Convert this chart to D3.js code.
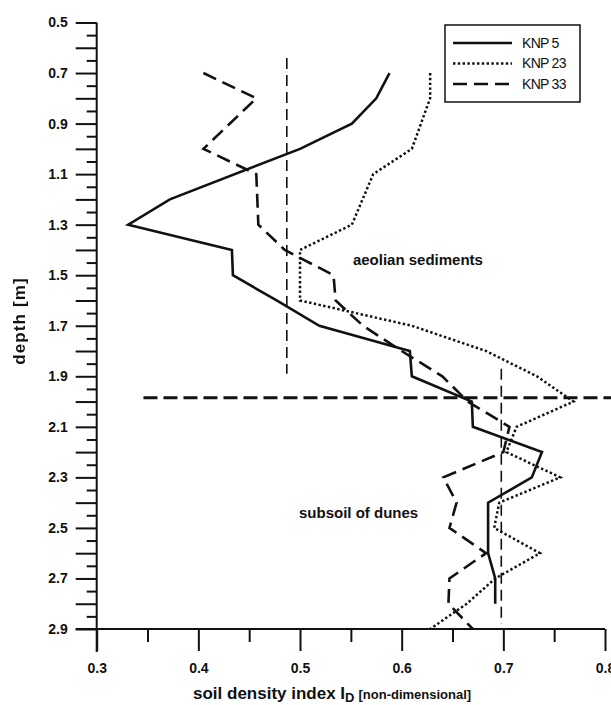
<!DOCTYPE html>
<html>
<head>
<meta charset="utf-8">
<script src="https://cdn.jsdelivr.net/npm/d3@7"></script>
<style>
  body { margin: 0; background: #fff; }
  text { font-family: "Liberation Sans", Arial, sans-serif; fill: #111; }
  .ytitle { will-change: transform; }
</style>
</head>
<body>
<script>
// data (depth in m, soil density index I_D)
const knp5Depth = [0.7, 0.8, 0.9, 1.0, 1.2, 1.3, 1.4, 1.5, 1.6, 1.7, 1.8, 1.9, 2.0, 2.1, 2.2, 2.3, 2.4, 2.6, 2.7, 2.8];
const knp5Id    = [0.588, 0.575, 0.551, 0.500, 0.372, 0.331, 0.433, 0.434, 0.477, 0.519, 0.608, 0.610, 0.669, 0.670, 0.738, 0.728, 0.685, 0.685, 0.692, 0.692];

const knp23Depth = [0.7, 0.8, 0.9, 1.0, 1.1, 1.3, 1.4, 1.6, 1.7, 1.8, 1.9, 2.0, 2.1, 2.2, 2.3, 2.4, 2.5, 2.6, 2.7, 2.8, 2.9];
const knp23Id    = [0.628, 0.628, 0.619, 0.610, 0.572, 0.551, 0.500, 0.500, 0.610, 0.683, 0.733, 0.769, 0.713, 0.703, 0.756, 0.696, 0.691, 0.736, 0.692, 0.664, 0.628];

const knp33Depth = [0.7, 0.8, 1.0, 1.1, 1.3, 1.4, 1.5, 1.6, 1.7, 1.8, 1.9, 2.0, 2.1, 2.2, 2.3, 2.4, 2.5, 2.6, 2.7, 2.8, 2.9];
const knp33Id    = [0.405, 0.457, 0.405, 0.457, 0.459, 0.485, 0.533, 0.535, 0.562, 0.600, 0.640, 0.665, 0.706, 0.700, 0.641, 0.654, 0.647, 0.683, 0.647, 0.646, 0.670];

const seriesNames = ["KNP 5", "KNP 23", "KNP 33"];

// layer boundary and mean lines
const boundaryDepth = 1.985;
const boundaryFrom = 0.346;
const meanIds = [0.487, 0.698];
const meanTop = [0.64, 1.87];
const meanBottom = [1.89, 2.88];
const layerNames = ["aeolian sediments", "subsoil of dunes"];
const layerLabelAt = [[0.552, 1.46], [0.499, 2.46]];

const xLabels = ["0.3", "0.4", "0.5", "0.6", "0.7", "0.8"];
const yLabels = ["0.5", "0.7", "0.9", "1.1", "1.3", "1.5", "1.7", "1.9", "2.1", "2.3", "2.5", "2.7", "2.9"];

const W = 611, H = 705;
const svg = d3.select("body").append("svg")
    .attr("width", W)
    .attr("height", H);
svg.append("rect").attr("width", W).attr("height", H).attr("fill", "#fff");

const x = d3.scaleLinear().domain([0.3, 0.8]).range([96.7, 605]);
const y = d3.scaleLinear().domain([0.5, 2.9]).range([22.5, 629]);

// ---- axes
const yMajor = d3.range(5, 30).map(d => d / 10);
const yMinor = d3.range(5, 29).map(d => d / 10 + 0.05);
const xMajor = d3.range(3, 9).map(d => d / 10);
const xMinor = d3.range(3, 8).map(d => d / 10 + 0.05);

function styleAxis(g) {
    g.select(".domain").remove();
    g.selectAll(".tick line").attr("stroke", "#111").attr("stroke-width", 2);
    g.selectAll(".tick text")
        .attr("font-family", "Liberation Sans, Arial, sans-serif")
        .attr("font-size", 14)
        .attr("font-weight", "bold")
        .attr("fill", "#111");
}

svg.append("g")
    .attr("transform", "translate(" + x(0.3) + ",0)")
    .call(d3.axisLeft(y).tickValues(yMinor).tickSize(10).tickFormat(""))
    .call(styleAxis);

svg.append("g")
    .attr("transform", "translate(" + x(0.3) + ",0)")
    .call(d3.axisLeft(y).tickValues(yMajor).tickSize(21).tickPadding(8)
        .tickFormat(d => yLabels.includes(d.toFixed(1)) ? d.toFixed(1) : ""))
    .call(styleAxis);

svg.append("g")
    .attr("transform", "translate(0," + y(2.9) + ")")
    .call(d3.axisBottom(x).tickValues(xMinor).tickSize(13).tickFormat(""))
    .call(styleAxis);

svg.append("g")
    .attr("transform", "translate(0," + y(2.9) + ")")
    .call(d3.axisBottom(x).tickValues(xMajor).tickSize(22).tickPadding(12)
        .tickFormat((d, i) => xLabels[i]))
    .call(styleAxis);

// axis lines
svg.append("line")
    .attr("x1", x(0.3)).attr("x2", x(0.3))
    .attr("y1", y(0.5)).attr("y2", y(2.9) + 23)
    .attr("stroke", "#111").attr("stroke-width", 2);
svg.append("line")
    .attr("x1", x(0.3) - 21).attr("x2", x(0.8))
    .attr("y1", y(2.9)).attr("y2", y(2.9))
    .attr("stroke", "#111").attr("stroke-width", 2);

// axis titles
const xt = svg.append("text")
    .attr("x", 193)
    .attr("y", 699)
    .attr("font-size", 17)
    .attr("font-weight", "bold")
    .attr("fill", "#111");
xt.append("tspan").text("soil density index I");
xt.append("tspan").attr("font-size", 13).attr("dy", 3).text("D");
xt.append("tspan").attr("font-size", 13).attr("dy", -3).attr("dx", 4).text("[non-dimensional]");

svg.append("text")
    .attr("class", "ytitle")
    .attr("transform", "translate(25,321) rotate(-90)")
    .attr("text-anchor", "middle")
    .attr("font-size", 17)
    .attr("font-weight", "bold")
    .attr("letter-spacing", 1.1)
    .attr("fill", "#111")
    .text("depth [m]");

// ---- reference lines
svg.selectAll(".meanline")
    .data(meanIds)
    .enter().append("line")
    .attr("class", "meanline")
    .attr("x1", d => x(d)).attr("x2", d => x(d))
    .attr("y1", (d, i) => y(meanTop[i]))
    .attr("y2", (d, i) => y(meanBottom[i]))
    .attr("stroke", "#111")
    .attr("stroke-width", 1.6)
    .attr("stroke-dasharray", "11,6");

svg.append("line")
    .attr("x1", x(boundaryFrom)).attr("x2", x(0.82))
    .attr("y1", y(boundaryDepth)).attr("y2", y(boundaryDepth))
    .attr("stroke", "#111")
    .attr("stroke-width", 3)
    .attr("stroke-dasharray", "14,6");

// ---- profiles
const line = d3.line().x(d => x(d[0])).y(d => y(d[1]));
const profiles = [
    { pts: d3.zip(knp5Id, knp5Depth), dash: null, w: 2.6 },
    { pts: d3.zip(knp23Id, knp23Depth), dash: "2.4,2.4", w: 2.5 },
    { pts: d3.zip(knp33Id, knp33Depth), dash: "14,7", w: 2.6 }
];

svg.selectAll(".profile")
    .data(profiles)
    .enter().append("path")
    .attr("class", "profile")
    .attr("d", d => line(d.pts))
    .attr("fill", "none")
    .attr("stroke", "#111")
    .attr("stroke-width", d => d.w)
    .attr("stroke-dasharray", d => d.dash);

// ---- layer labels
svg.selectAll(".layer")
    .data(layerNames)
    .enter().append("text")
    .attr("class", "layer")
    .attr("x", (d, i) => x(layerLabelAt[i][0]))
    .attr("y", (d, i) => y(layerLabelAt[i][1]))
    .attr("font-size", 15)
    .attr("font-weight", "bold")
    .text(d => d);

// ---- legend
const legend = svg.append("g").attr("transform", "translate(445,25)");
legend.append("rect")
    .attr("width", 135).attr("height", 77)
    .attr("fill", "#fff")
    .attr("stroke", "#111")
    .attr("stroke-width", 1.5);

const entry = legend.selectAll(".entry")
    .data(seriesNames)
    .enter().append("g")
    .attr("class", "entry")
    .attr("transform", (d, i) => "translate(0," + (18 + i * 20.5) + ")");

entry.append("line")
    .attr("x1", 8).attr("x2", 67)
    .attr("stroke", "#111")
    .attr("stroke-width", (d, i) => profiles[i].w)
    .attr("stroke-dasharray", (d, i) => profiles[i].dash);

entry.append("text")
    .attr("x", 77)
    .attr("dy", "0.35em")
    .attr("font-size", 14)
    .attr("letter-spacing", -0.7)
    .text(d => d);
</script>
</body>
</html>
